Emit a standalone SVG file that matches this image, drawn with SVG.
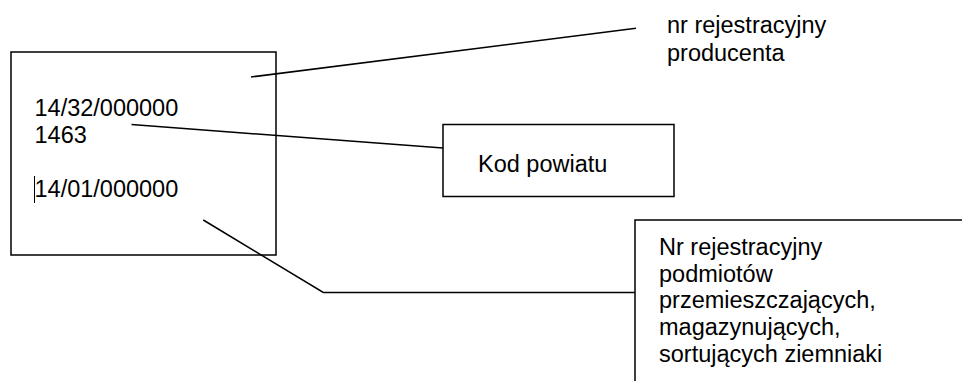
<svg xmlns="http://www.w3.org/2000/svg" width="962" height="381" viewBox="0 0 962 381">
<style>
.box{fill:#fff;stroke:#000;stroke-width:1.5}
.ln{fill:none;stroke:#000;stroke-width:1.5}
text{font-family:"Liberation Sans",Arial,sans-serif;font-size:23.5px;fill:#000}
</style>
<rect width="962" height="381" fill="#fff"/>
<g id="main-box">
<rect class="box" x="11" y="52" width="265" height="203"/>
<text x="34.5" y="115.7">14/32/000000</text>
<text x="34.5" y="142.5">1463</text>
<text x="34.5" y="197.3">14/01/000000</text>
<line x1="34.5" y1="176" x2="34.5" y2="203" stroke="#000" stroke-width="1"/>
</g>
<g id="kod-box">
<rect class="box" x="443" y="124.5" width="231" height="72"/>
<text x="478" y="171.7">Kod powiatu</text>
</g>
<g id="producent-label">
<text x="667" y="33.4">nr rejestracyjny</text>
<text x="667" y="60.6">producenta</text>
</g>
<g id="podmioty-box">
<rect class="box" x="635" y="220" width="340" height="180"/>
<text x="659" y="255">Nr rejestracyjny</text>
<text x="659" y="281.7">podmiotów</text>
<text x="659" y="308.4">przemieszczających,</text>
<text x="659" y="335.1">magazynujących,</text>
<text x="659" y="361.8">sortujących ziemniaki</text>
</g>
<g id="connectors">
<line class="ln" x1="251" y1="77" x2="636" y2="28.3"/>
<line class="ln" x1="131.5" y1="124.5" x2="443" y2="148"/>
<polyline class="ln" points="203.3,220 323.3,292.5 635,292.5"/>
</g>
</svg>
